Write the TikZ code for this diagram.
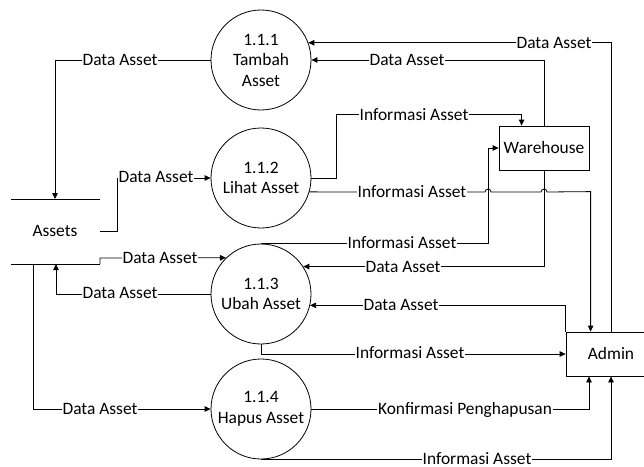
\documentclass[tikz,border=0pt]{standalone}
\usepackage{fontspec}
\setmainfont{Carlito}
\usetikzlibrary{arrows.meta,calc}
\begin{document}
\begin{tikzpicture}[x=1pt,y=-1pt,
  font=\fontsize{17.4}{20.5}\selectfont,
  proc/.style={circle,draw,line width=0.8pt,minimum size=100pt,inner sep=0pt,align=center},
  ent/.style={rectangle,draw,line width=0.8pt,minimum width=90pt,minimum height=44pt,inner sep=0pt},
  flow/.style={draw,line width=0.8pt,-{Triangle[length=6pt,width=5.5pt]}},
  plain/.style={draw,line width=0.8pt},
  lbl/.style={fill=white,inner sep=0.6pt}]
\useasboundingbox (0,0) rectangle (644,466);

% processes
\node[proc] (c1) at (261,60) {1.1.1\\Tambah\\Asset};
\node[proc] (c2) at (261,178) {1.1.2\\Lihat Asset};
\node[proc] (c3) at (261,294) {1.1.3\\Ubah Asset};
\node[proc] (c4) at (261,409) {1.1.4\\Hapus Asset};

% entities
\node[ent] (wh) at (544,148) {Warehouse};
\node[ent] (admin) at (611,354) {Admin};

% data store
\coordinate (sTL) at (11,199);
\coordinate (sTR) at (100,199);
\coordinate (sBL) at (11,264);
\coordinate (sBR) at (100,264);
\node (assets) at (55,231) {Assets};
\draw[plain] (sTL) -- (sTR);
\draw[plain] (sBL) -- (sBR);

% connectors
\draw[flow] (c1.west) -| ($(sTL)+(44,0)$);
\draw[flow] (assets.east -| sTR) -- ++(17,0) |- (c2.west);
\draw[flow] (admin.north) |- (c1.20);
\draw[flow] (wh.north) |- (c1.east);
\draw[flow] (c2.east) -- ++(25,0) |- ($(wh.north west)+(23,-11)$) -- ($(wh.north west)+(23,0)$);
\draw[flow] (c2.-16) -- (485,192) arc (180:360:3) -- (541,192) arc (180:360:3)
   -- ($(admin.north west)+(25,-140)$) -- ($(admin.north west)+(25,0)$);
\draw[flow] (wh.south) |- (c3.33);
\draw[flow] (c3.north) -- ++(227,0) |- (wh.west);
\draw[flow] (sBR) -- ++(0,-6) -- (c3.134);
\draw[flow] (c3.west) -| ($(sBL)+(45,0)$);
\draw[flow] (admin.north west) |- (c3.-13);
\draw[flow] (c3.south) |- (admin.west);
\draw[flow] (c4.east) -| ($(admin.south)+(-22,0)$);
\draw[flow] (c4.south) -| (admin.south);
\draw[flow] ($(sBL)+(22,0)$) |- (c4.west);

% labels
\node[lbl] at (120,60) {Data Asset};
\node[lbl] at (156,177) {Data Asset};
\node[lbl] at (554,43) {Data Asset};
\node[lbl] at (407,60) {Data Asset};
\node[lbl] at (414,115) {Informasi Asset};
\node[lbl] at (412,192) {Informasi Asset};
\node[lbl] at (403,267) {Data Asset};
\node[lbl] at (402,243) {Informasi Asset};
\node[lbl] at (160,258) {Data Asset};
\node[lbl] at (120,293) {Data Asset};
\node[lbl] at (401,305) {Data Asset};
\node[lbl] at (410,353) {Informasi Asset};
\node[lbl] at (465,410) {Konfirmasi Penghapusan};
\node[lbl] at (477,459) {\raisebox{0pt}[\height][0.5pt]{Informasi Asset}};
\node[lbl] at (100,409) {Data Asset};
\end{tikzpicture}
\end{document}
